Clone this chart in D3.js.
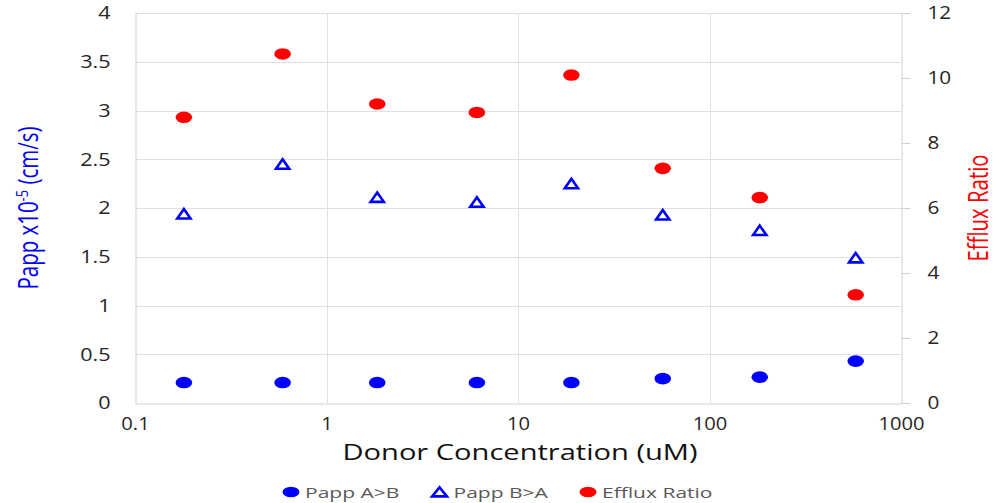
<!DOCTYPE html>
<html>
<head>
<meta charset="utf-8">
<script src="https://cdn.jsdelivr.net/npm/d3@7"></script>
<style>
  html, body { margin: 0; padding: 0; background: #fff; }
  svg { display: block; }
  text { font-family: "Open Sans", sans-serif; }
</style>
</head>
<body>
<svg id="chart" width="1000" height="503"></svg>
<script>
// Donor concentration (uM) on a log axis
const concentrations = [0.18, 0.59, 1.84, 6.1, 19, 57, 183, 580];
// Apparent permeability, x10^-5 cm/s (left axis)
const pappAtoB = [0.21, 0.21, 0.21, 0.21, 0.21, 0.25, 0.265, 0.43];
const pappBtoA = [1.94, 2.45, 2.11, 2.06, 2.25, 1.93, 1.77, 1.49];
// Efflux ratio (right axis)
const effluxRatio = [8.79, 10.74, 9.2, 8.94, 10.09, 7.22, 6.32, 3.33];

const xTicks = [0.1, 1, 10, 100, 1000];
const leftTicks = [0, 0.5, 1, 1.5, 2, 2.5, 3, 3.5, 4];
const rightTicks = [0, 2, 4, 6, 8, 10, 12];
const legendLabels = ["Papp A>B", "Papp B>A", "Efflux Ratio"];

const BLUE = "#0000ff", RED = "#ff0000";
const plot = { left: 135, right: 901, top: 13, bottom: 403 };

const svg = d3.select("#chart");
svg.append("rect").attr("width", 1000).attr("height", 503).attr("fill", "#fff");

const x = d3.scaleLog().domain([0.1, 1000]).range([plot.left, plot.right]);
const yL = d3.scaleLinear().domain([0, 4]).range([plot.bottom, plot.top]);
const yR = d3.scaleLinear().domain([0, 12]).range([plot.bottom, plot.top]);

// widen glyphs horizontally by a factor
function widen(sel, f) {
  sel.each(function () {
    const w = this.getComputedTextLength();
    d3.select(this).attr("textLength", w * f).attr("lengthAdjust", "spacingAndGlyphs");
  });
}

// gridlines
const grid = svg.append("g").attr("stroke", "#e0e0e0").attr("stroke-width", 1);
grid.selectAll("line.h").data(leftTicks.filter(d => d > 0)).join("line")
  .attr("x1", plot.left).attr("x2", plot.right)
  .attr("y1", d => Math.round(yL(d)) + 0.5).attr("y2", d => Math.round(yL(d)) + 0.5);
grid.selectAll("line.v").data(xTicks.slice(1, -1)).join("line")
  .attr("y1", plot.top).attr("y2", plot.bottom)
  .attr("x1", d => Math.round(x(d)) + 0.5).attr("x2", d => Math.round(x(d)) + 0.5);

// left axis
const gL = svg.append("g").attr("transform", `translate(${plot.left + 0.5},0)`)
  .call(d3.axisLeft(yL).tickValues(leftTicks).tickSize(0).tickPadding(25).tickFormat(d3.format("~g")));
gL.select(".domain").attr("stroke", "#d0d0d0");
gL.selectAll("text").attr("font-size", 18).attr("fill", "#262626").call(widen, 1.2);

// right axis
const gR = svg.append("g").attr("transform", `translate(${plot.right + 0.5},0)`)
  .call(d3.axisRight(yR).tickValues(rightTicks).tickSize(9).tickSizeOuter(0).tickPadding(17));
gR.select(".domain").attr("stroke", "#d0d0d0");
gR.selectAll(".tick line").attr("stroke", "#d0d0d0");
gR.selectAll("text").attr("font-size", 18).attr("fill", "#262626").call(widen, 1.15);

// bottom axis
const gB = svg.append("g").attr("transform", `translate(0,${plot.bottom + 0.5})`)
  .call(d3.axisBottom(x).tickValues(xTicks).tickSize(0).tickPadding(14).tickFormat(d3.format("~g")));
gB.select(".domain").attr("stroke", "#d0d0d0");
gB.selectAll("text").attr("font-size", 18).attr("fill", "#262626").call(widen, 1.12);

// axis titles
svg.append("text")
  .attr("transform", `translate(${(plot.left + plot.right) / 2 + 2},460)`)
  .attr("text-anchor", "middle").attr("font-size", 21).attr("fill", "#111")
  .attr("textLength", 355).attr("lengthAdjust", "spacingAndGlyphs")
  .text("Donor Concentration (uM)");

const tl = svg.append("text")
  .attr("transform", `translate(38,208) rotate(-90)`)
  .attr("text-anchor", "middle").attr("font-size", 27).attr("fill", BLUE)
  .attr("textLength", 163).attr("lengthAdjust", "spacingAndGlyphs");
tl.append("tspan").text("Papp x10");
tl.append("tspan").attr("font-size", 17).attr("dy", -10).text("-5");
tl.append("tspan").attr("dy", 10).text(" (cm/s)");

svg.append("text")
  .attr("transform", `translate(988,208) rotate(-90)`)
  .attr("text-anchor", "middle").attr("font-size", 27).attr("fill", RED)
  .attr("textLength", 107).attr("lengthAdjust", "spacingAndGlyphs")
  .text("Efflux Ratio");

// triangle marker path centred on its bounding box
const tri = "M0,-4.8L6.6,4.6L-6.6,4.6Z";

const pts = concentrations.map((c, i) => ({ c, ab: pappAtoB[i], ba: pappBtoA[i], er: effluxRatio[i] }));

svg.append("g").selectAll("ellipse").data(pts).join("ellipse")
  .attr("cx", d => x(d.c)).attr("cy", d => yL(d.ab))
  .attr("rx", 8.3).attr("ry", 5.8).attr("fill", BLUE);

svg.append("g").selectAll("path").data(pts).join("path")
  .attr("transform", d => `translate(${x(d.c)},${yL(d.ba)})`)
  .attr("d", tri).attr("fill", "#fff").attr("stroke", BLUE).attr("stroke-width", 2.6);

svg.append("g").selectAll("ellipse").data(pts).join("ellipse")
  .attr("cx", d => x(d.c)).attr("cy", d => yR(d.er))
  .attr("rx", 8.3).attr("ry", 5.8).attr("fill", RED);

// legend
const legendX = [291, 439.5, 588];
const lg = svg.append("g");
legendLabels.forEach((label, i) => {
  const cx = legendX[i];
  if (i === 1) {
    lg.append("path").attr("transform", `translate(${cx},492)`)
      .attr("d", "M0,-4.6L7.4,4.4L-7.4,4.4Z").attr("fill", "#fff")
      .attr("stroke", BLUE).attr("stroke-width", 2.6);
  } else {
    lg.append("ellipse").attr("cx", cx).attr("cy", 492).attr("rx", 8.5).attr("ry", 5.3)
      .attr("fill", i === 0 ? BLUE : RED);
  }
  lg.append("text").attr("x", cx + 14).attr("y", 497.5)
    .attr("font-size", 15).attr("fill", "#595959")
    .text(label).call(widen, 1.4);
});
</script>
</body>
</html>
